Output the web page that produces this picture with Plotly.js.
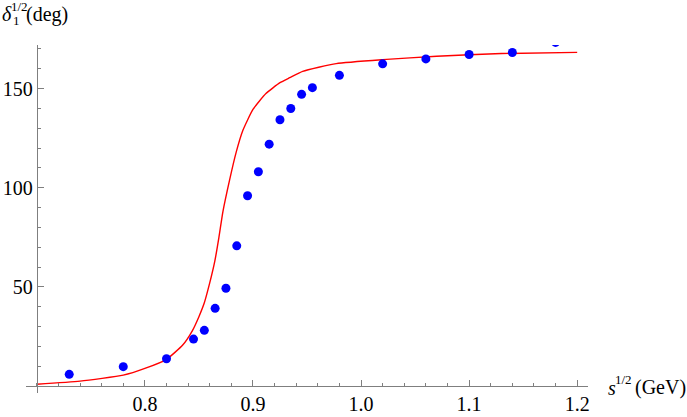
<!DOCTYPE html>
<html>
<head>
<meta charset="utf-8">
<script src="https://cdn.plot.ly/plotly-3.0.1.min.js"></script>
<style>
html,body{margin:0;padding:0;background:#fff;}
#chart{width:687px;height:417px;}
#chart svg text{font-family:"Liberation Serif","DejaVu Serif","Times New Roman",serif !important;}
</style>
</head>
<body>
<div id="chart"></div>
<script>
// Data points (phase shift, deg) vs sqrt(s) (GeV)
const dataX = [0.730, 0.780, 0.820, 0.845, 0.855, 0.865, 0.875, 0.885, 0.895, 0.905, 0.915, 0.925, 0.935, 0.945, 0.955, 0.980, 1.020, 1.060, 1.100, 1.140, 1.180];
const dataY = [5.9, 9.8, 13.8, 23.7, 28.1, 39.2, 49.3, 70.7, 96.0, 108.1, 122.0, 134.3, 140.0, 147.1, 150.5, 156.7, 162.5, 165.0, 167.2, 168.2, 173.3];

// Model curve
const curveX = [0.700, 0.740, 0.780, 0.800, 0.820, 0.835, 0.844, 0.850, 0.855, 0.860, 0.8647, 0.8685, 0.8722, 0.8784, 0.8845, 0.8907, 0.900, 0.912, 0.925, 0.934, 0.946, 0.977, 1.020, 1.070, 1.130, 1.200];
const curveY = [0.9, 2.5, 5.5, 8.9, 13.5, 20.7, 28.0, 35.0, 42.0, 52.0, 63.0, 75.0, 88.0, 104.0, 118.0, 129.0, 139.5, 147.5, 153.0, 155.5, 158.7, 162.6, 164.6, 166.3, 167.7, 168.3];

const xTicks = [0.8, 0.9, 1.0, 1.1, 1.2];
const xTickText = ["0.8", "0.9", "1.0", "1.1", "1.2"];
const yTicks = [50, 100, 150];
const yTickText = ["50", "100", "150"];

const xRange = [0.69, 1.21];
const yRange = [-3.5, 172];

const serif = "Liberation Serif";
const axisGrey = "#7f7f7f";

const traces = [
  {
    x: curveX, y: curveY, type: "scatter", mode: "lines",
    line: {color: "#ff0000", width: 1.4, shape: "spline", smoothing: 0.5},
    hoverinfo: "skip"
  },
  {
    x: dataX, y: dataY, type: "scatter", mode: "markers",
    marker: {color: "#0000ff", size: 9},
    cliponaxis: true
  }
];

const layout = {
  width: 687, height: 417,
  margin: {l: 26.4, r: 98.5, t: 45.4, b: 24.1, pad: 0},
  paper_bgcolor: "#ffffff", plot_bgcolor: "#ffffff",
  showlegend: false,
  font: {family: serif, size: 20, color: "#000"},
  xaxis: {
    range: xRange, anchor: "free",
    position: (0 - yRange[0]) / (yRange[1] - yRange[0]),
    showgrid: false, zeroline: false,
    showline: true, linecolor: axisGrey, linewidth: 1,
    tickmode: "array", tickvals: xTicks, ticktext: xTickText,
    ticks: "inside", ticklen: 6, tickwidth: 1, tickcolor: axisGrey,
    tickfont: {family: serif, size: 20, color: "#000"},
    minor: {dtick: 0.02, tick0: 0.7, ticks: "inside", ticklen: 3.5, tickwidth: 1, tickcolor: axisGrey, showgrid: false}
  },
  yaxis: {
    range: yRange, anchor: "free",
    position: (0.7 - xRange[0]) / (xRange[1] - xRange[0]),
    showgrid: false, zeroline: false,
    showline: true, linecolor: axisGrey, linewidth: 1,
    tickmode: "array", tickvals: yTicks, ticktext: yTickText,
    ticks: "inside", ticklen: 6, tickwidth: 1, tickcolor: axisGrey,
    tickfont: {family: serif, size: 20, color: "#000"},
    minor: {dtick: 10, tick0: 0, ticks: "inside", ticklen: 3.5, tickwidth: 1, tickcolor: axisGrey, showgrid: false}
  },
  annotations: [
    // y-axis label: delta_1^{1/2}(deg)
    {xref: "paper", yref: "paper", x: 0, y: 1, xanchor: "left", yanchor: "middle", showarrow: false,
     xshift: -26.0, yshift: 31.0, text: "<i>δ</i>", font: {family: serif, size: 20, color: "#000"}},
    {xref: "paper", yref: "paper", x: 0, y: 1, xanchor: "left", yanchor: "middle", showarrow: false,
     xshift: -17.0, yshift: 38.5, text: "1/2", font: {family: serif, size: 13, color: "#000"}},
    {xref: "paper", yref: "paper", x: 0, y: 1, xanchor: "left", yanchor: "middle", showarrow: false,
     xshift: -15.0, yshift: 24.5, text: "1", font: {family: serif, size: 13, color: "#000"}},
    {xref: "paper", yref: "paper", x: 0, y: 1, xanchor: "left", yanchor: "middle", showarrow: false,
     xshift: -2.0, yshift: 31.0, text: "(deg)", font: {family: serif, size: 20, color: "#000"}},
    // x-axis label: s^{1/2}(GeV)
    {xref: "paper", yref: "paper", x: 1, y: 0, xanchor: "left", yanchor: "middle", showarrow: false,
     xshift: 17.5, yshift: 5.4, text: "<i>s</i>", font: {family: serif, size: 20, color: "#000"}},
    {xref: "paper", yref: "paper", x: 1, y: 0, xanchor: "left", yanchor: "middle", showarrow: false,
     xshift: 25.0, yshift: 13.4, text: "1/2", font: {family: serif, size: 13, color: "#000"}},
    {xref: "paper", yref: "paper", x: 1, y: 0, xanchor: "left", yanchor: "middle", showarrow: false,
     xshift: 45.0, yshift: 5.4, text: "(GeV)", font: {family: serif, size: 20, color: "#000"}}
  ]
};

Plotly.newPlot("chart", traces, layout, {staticPlot: true, displayModeBar: false});
</script>
</body>
</html>
